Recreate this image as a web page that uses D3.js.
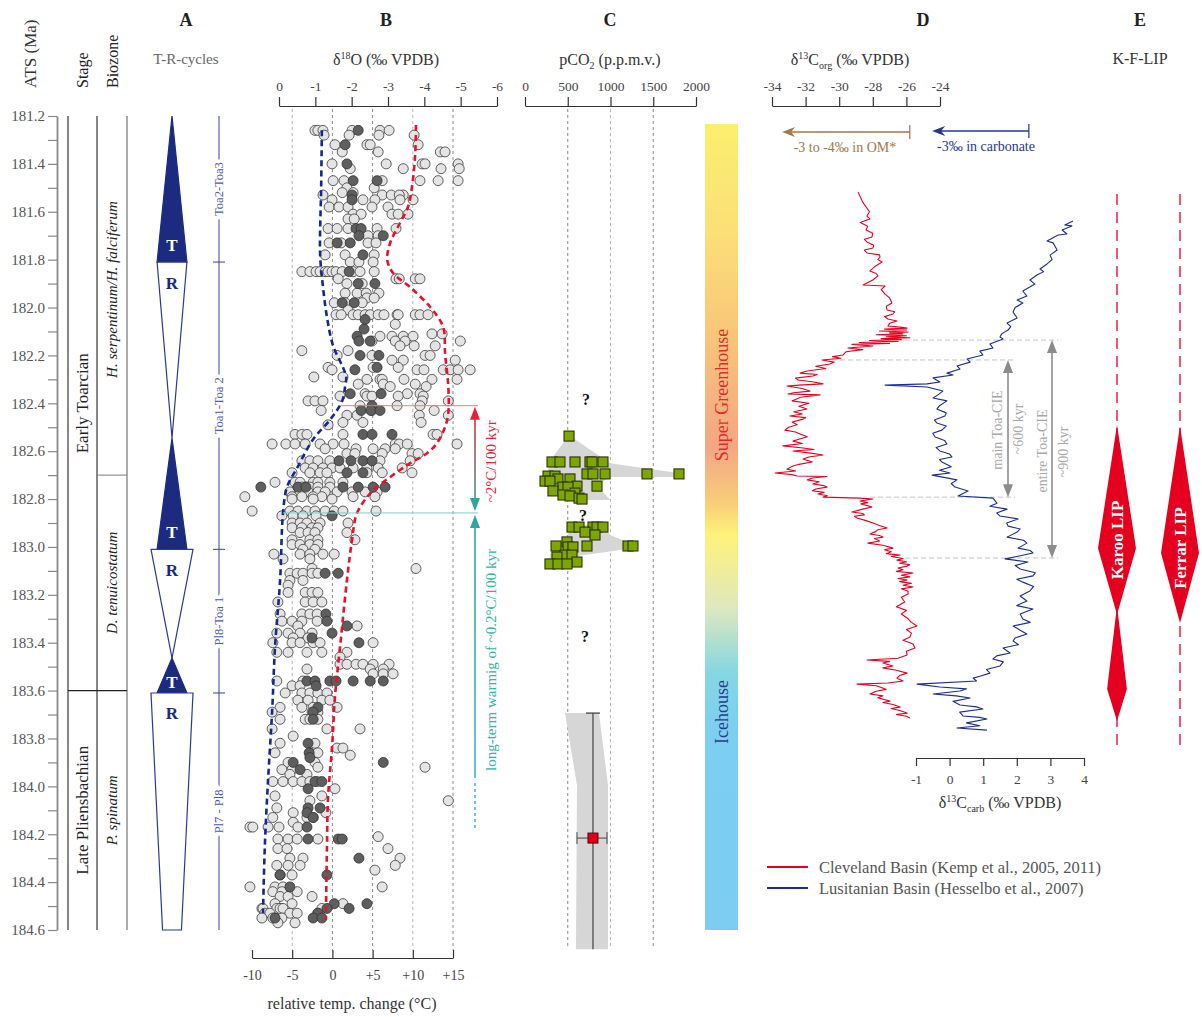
<!DOCTYPE html>
<html>
<head>
<meta charset="utf-8">
<script src="https://cdn.jsdelivr.net/npm/d3@7"></script>
<style>
  body { margin: 0; background: #fff; }
  svg { display: block; }
  text { font-family: "Liberation Serif", "Times New Roman", serif; }
</style>
</head>
<body>
<svg id="chart" width="1202" height="1017"></svg>
<script>
// ---------------------------------------------------------------
// Age axis
// ---------------------------------------------------------------
const ageMajorTicks = [181.2,181.4,181.6,181.8,182.0,182.2,182.4,182.6,182.8,183.0,183.2,183.4,183.6,183.8,184.0,184.2,184.4,184.6];
const ageMinorTicks = [181.3,181.5,181.7,181.9,182.1,182.3,182.5,182.7,182.9,183.1,183.3,183.5,183.7,183.9,184.1,184.3,184.5];

const stages = [
  { name: "Early Toarcian", from: 181.2, to: 183.6 },
  { name: "Late Pliensbachian", from: 183.6, to: 184.6 }
];
const biozones = [
  { name: "H. serpentinum/H. falciferum", from: 181.2, to: 182.7 },
  { name: "D. tenuicostatum", from: 182.7, to: 183.6 },
  { name: "P. spinatum", from: 183.6, to: 184.6 }
];

// T-R half-cycles, amplitude relative (0-1)
const trCycles = [
  { kind: "T", from: 181.20,  to: 181.81,  w0: 0,    w1: 0.71 },
  { kind: "R", from: 181.81,  to: 182.545, w0: 0.71, w1: 0 },
  { kind: "T", from: 182.545, to: 183.01,  w0: 0,    w1: 0.71 },
  { kind: "R", from: 183.01,  to: 183.464, w0: 1,    w1: 0 },
  { kind: "T", from: 183.464, to: 183.61,  w0: 0,    w1: 0.71 },
  { kind: "R", from: 183.61,  to: 184.60,  w0: 1,    w1: 0.45 }
];
const sequences = [
  { name: "Toa2-Toa3",  from: 181.2,  to: 181.81 },
  { name: "Toa1-Toa 2", from: 181.81, to: 183.01 },
  { name: "Pl8-Toa 1",  from: 183.01, to: 183.61 },
  { name: "Pl7 - Pl8",  from: 183.61, to: 184.6 }
];
const sequenceBounds = [181.81, 183.01, 183.61];

// ---------------------------------------------------------------
// B: oxygen isotopes (age, δ18O ‰ VPDB)
// ---------------------------------------------------------------
const d18OTicks = [0, -1, -2, -3, -4, -5, -6];
const tempTicks = [-10, -5, 0, 5, 10, 15];
const tempTickLabels = ["-10", "-5", "0", "+5", "+10", "+15"];

const d18OBelemnite = [
  [181.26,[-0.99,-1.07,-1.21,-2.01,-2.78,-3.03]],
  [181.28,[-1.24,-1.93,-2.75,-3.72]],
  [181.32,[-1.54,-2.42,-2.51,-3.83]],
  [181.35,[-1.74,-2.73,-4.44,-4.57]],
  [181.40,[-1.46,-2.95,-3.94,-4.02,-4.93]],
  [181.42,[-1.96,-3.42,-4.46,-4.96]],
  [181.47,[-1.49,-1.79,-2.84,-3.88,-4.38,-4.93]],
  [181.50,[-1.87,-2.62]],
  [181.52,[-1.74,-2.04]],
  [181.53,[-1.21,-2.84,-3.09,-3.42,-3.31]],
  [181.55,[-1.46,-2.31,-2.64,-3.69,-3.33]],
  [181.58,[-1.38,-1.65,-1.90,-2.56,-3.00]],
  [181.61,[-2.04,-2.26,-3.11,-3.28,-3.55]],
  [181.63,[-1.90,-2.07]],
  [181.67,[-1.35,-1.60,-1.90,-2.70,-3.22]],
  [181.70,[-2.45,-2.73]],
  [181.73,[-1.38,-1.71,-2.45,-2.67]],
  [181.78,[-1.27,-1.82,-2.62]],
  [181.81,[-1.96,-2.20,-2.59]],
  [181.85,[-0.63,-0.85,-1.02,-1.13,-1.27,-1.35,-1.46,-1.57,-1.74,-2.04,-2.23,-2.62]],
  [181.88,[-1.63,-3.22,-3.31,-3.75,-3.88]],
  [181.90,[-1.87,-2.29]],
  [181.94,[-1.82,-2.15,-2.40,-2.75]],
  [181.96,[-2.42,-2.62]],
  [181.98,[-1.52,-1.82,-2.29]],
  [182.01,[-1.90]],
  [182.03,[-1.57,-1.71,-2.04,-2.18,-2.37,-2.51,-2.73,-2.89,-3.25,-3.28,-3.75,-3.88,-4.10]],
  [182.07,[-3.20]],
  [182.11,[-4.21,-4.49]],
  [182.12,[-2.78,-3.11,-3.42,-3.69]],
  [182.14,[-2.56,-3.20,-3.47,-4.99]],
  [182.16,[-3.33,-3.72,-4.30]],
  [182.18,[-0.63,-1.90]],
  [182.20,[-1.60,-2.56,-4.02,-4.16]],
  [182.22,[-3.11,-3.42,-4.85]],
  [182.25,[-1.35,-2.59,-3.28]],
  [182.26,[-1.46,-3.80,-3.99,-4.52,-4.71,-4.93,-5.26]],
  [182.29,[-0.96,-1.76]],
  [182.30,[-2.42,-2.78,-2.84,-3.44,-4.21,-4.90]],
  [182.32,[-2.18,-2.87,-3.75]],
  [182.33,[-3.06,-4.05]],
  [182.36,[-2.37,-3.53,-3.88]],
  [182.37,[-1.68,-2.42,-2.56,-3.28,-3.97]],
  [182.39,[-0.80,-0.99,-1.21,-3.94,-4.66]],
  [182.41,[-2.23,-3.25,-3.88]],
  [182.43,[-1.16,-2.56,-4.27]],
  [182.45,[-1.87,-2.15,-3.86,-4.66]],
  [182.48,[-1.76,-2.31,-3.91]],
  [182.49,[-1.35]],
  [182.53,[-0.44,-0.63,-0.77,-1.76,-4.24,-4.35]],
  [182.57,[0.19,-0.19,-0.44,-0.72,-1.13,-1.49,-1.79,-3.20,-3.31,-3.53,-4.90]],
  [182.59,[-1.27,-2.12,-2.59,-2.92,-3.20]],
  [182.61,[-1.87,-2.09,-2.84,-3.66,-3.83]],
  [182.64,[-0.63,-0.85,-1.07,-1.40,-2.78,-3.61]],
  [182.67,[-0.72,-0.94,-1.21,-1.46,-1.68,-2.04,-2.42,-2.73,-3.39]],
  [182.69,[-0.36,-0.85,-1.13,-1.32,-2.42,-2.84,-3.66]],
  [182.73,[0.11,-0.44,-0.58,-0.94,-1.07,-1.40,-1.76]],
  [182.75,[-0.63,-0.74,-0.85,-1.07,-1.40]],
  [182.77,[-0.30,-0.58,-0.80,-1.07,-1.27,-1.60,-2.01,-2.37,-2.70]],
  [182.79,[0.94,-0.36,-0.63,-0.94,-1.18,-2.04,-2.64]],
  [182.80,[-0.36,-0.94,-1.46]],
  [182.85,[0.74,-0.30,-0.52,-0.77,-0.99,-1.27,-1.52,-1.76,-2.67]],
  [182.87,[-0.08,-0.39,-0.66,-1.02]],
  [182.90,[-0.36,-0.58,-0.77,-1.13,-1.90]],
  [182.92,[-0.36,-0.63,-0.91,-1.07]],
  [182.94,[-0.58,-0.80,-0.99,-1.87]],
  [182.97,[-0.36,-0.85,-1.07,-2.09]],
  [182.99,[-0.36,-0.58,-0.85,-1.07]],
  [183.01,[-0.66,-0.99]],
  [183.03,[0.14,-0.58,-0.85,-1.21,-1.52]],
  [183.05,[-0.11,-0.85]],
  [183.09,[-0.91,-3.77]],
  [183.11,[-0.30,-0.50,-0.66,-0.91,-1.07]],
  [183.14,[-0.30,-0.66]],
  [183.16,[-0.25]],
  [183.19,[-0.25,-0.72,-0.91,-1.07]],
  [183.23,[0.03,-0.72,-0.94,-1.18]],
  [183.28,[-0.03,-0.63,-0.85,-1.05]],
  [183.31,[-0.08,-0.36,-0.63,-1.05]],
  [183.33,[-0.52,-2.15]],
  [183.36,[0.06,-0.25,-0.58,-0.91]],
  [183.38,[-0.39,-0.80]],
  [183.40,[0.17,-0.36,-0.58,-0.94,-1.13,-2.59]],
  [183.44,[0.06,-0.25,-0.77,-1.18,-1.87]],
  [183.46,[-1.68]],
  [183.49,[-1.68,-1.87,-2.12,-2.31,-2.59,-3.03]],
  [183.51,[-0.77,-2.51,-2.87]],
  [183.53,[-2.59,-2.87,-3.14]],
  [183.56,[0.06,-0.66]],
  [183.58,[-0.36,-0.58]],
  [183.61,[-0.17,-0.63,-0.85,-1.07,-1.32]],
  [183.64,[-0.52,-0.80,-1.18,-1.40]],
  [183.67,[-0.03,-0.63,-0.94,-1.60]],
  [183.69,[0.19,-0.91,-1.07]],
  [183.72,[-0.03,-0.72,-0.85,-1.07]],
  [183.76,[0.19,-1.32,-2.23]],
  [183.79,[-0.39]],
  [183.82,[-0.03,-0.99]],
  [183.84,[-1.60,-1.76]],
  [183.86,[0.11,-0.85,-1.07]],
  [183.87,[-1.96]],
  [183.90,[-0.25,-0.99]],
  [183.92,[-1.07,-4.02]],
  [183.93,[-0.08,-0.36]],
  [183.95,[-0.30,-0.77]],
  [183.98,[0.17,-0.11,-0.39,-0.63,-0.85,-1.05]],
  [184.01,[-1.54]],
  [184.04,[0.11,-1.18]],
  [184.06,[-0.85,-4.66]],
  [184.09,[0.06]],
  [184.11,[-0.39,-1.29]],
  [184.13,[0.17,-0.77,-0.94]],
  [184.15,[-0.39]],
  [184.17,[0.80,0.72,0.30,0.00,-0.52]],
  [184.21,[-2.73]],
  [184.22,[0.03,-0.25,-0.50,-1.07]],
  [184.26,[0.03,-0.22,-3.00]],
  [184.30,[-0.30,-0.66,-3.33]],
  [184.33,[0.06,-0.25,-0.58,-3.20]],
  [184.35,[-2.64]],
  [184.37,[-0.03,-0.36]],
  [184.42,[0.80,0.11,-0.11,-2.84]],
  [184.44,[0.17,-0.08,-0.50]],
  [184.46,[-0.03,-0.25,-0.91]],
  [184.49,[0.11,-0.36,-1.76]],
  [184.51,[0.47,0.44,0.06,-0.03,-0.11,-1.18]],
  [184.53,[0.39,0.25,-0.30,-0.50,-1.07]],
  [184.55,[0.47,0.17,-0.08]],
  [184.57,[0.03,-0.44]]
];

const d18OBrachiopod = [
  [181.26,[-2.18]],[181.32,[-1.82]],[181.40,[-1.87]],[181.47,[-2.04,-2.70]],
  [181.53,[-2.01]],[181.55,[-2.01]],[181.67,[-2.12,-2.26]],[181.70,[-2.20,-2.87]],
  [181.73,[-1.60,-1.96]],[181.78,[-2.31]],[181.85,[-1.93]],[181.90,[-2.18,-2.64]],
  [181.98,[-1.74,-2.07]],[182.05,[-2.37]],[182.09,[-2.34]],[182.12,[-2.15]],
  [182.14,[-2.20,-2.51]],[182.20,[-2.23,-2.75]],[182.25,[-2.70]],[182.26,[-2.09]],
  [182.36,[-1.96,-2.81]],[182.41,[-2.56]],[182.43,[-2.26,-2.53,-2.78]],
  [182.53,[-2.31,-2.56,-3.11]],[182.64,[-1.65,-1.98,-2.31,-2.56]],[182.69,[-1.87,-2.31]],
  [182.75,[0.50,-0.52,-0.74,-1.76,-2.18,-2.59,-2.92]],[182.87,[-1.46]],
  [183.11,[-1.27,-1.63]],[183.28,[-1.29]],[183.31,[-1.32]],[183.33,[-1.87]],
  [183.36,[-1.46]],[183.38,[-0.91]],[183.40,[-2.20]],
  [183.56,[-0.77,-0.99,-1.40,-1.57,-2.04,-2.51,-2.87]],[183.58,[-1.02]],
  [183.67,[-1.07]],[183.69,[-0.94]],[183.72,[-0.94]],[183.82,[-0.80]],[183.86,[-0.83]],
  [183.88,[-0.85]],[183.90,[-0.39,-2.87]],[183.93,[-0.58]],[183.98,[-0.99,-1.18]],
  [184.01,[-0.80]],[184.09,[-0.80,-1.13]],[184.11,[-0.77]],[184.13,[-0.94]],
  [184.17,[-0.77]],[184.22,[-0.80,-1.63,-1.74]],[184.30,[-2.20]],[184.37,[-0.03,-1.32]],
  [184.42,[-0.30]],[184.49,[-1.52,-2.42]],[184.51,[-1.32,-1.93]],[184.53,[-1.07]],
  [184.55,[0.11,-0.94,-1.18]]
];

// envelopes of the δ18O data
const d18OMinTrend = [
  [181.26,-1.18],[181.50,-1.16],[181.77,-1.13],[181.87,-1.18],[182.04,-1.32],[182.16,-1.49],
  [182.25,-1.76],[182.29,-1.85],[182.33,-1.82],[182.39,-1.74],[182.47,-1.40],[182.55,-0.94],
  [182.67,-0.50],[182.75,-0.22],[182.86,-0.11],[183.14,-0.03],[183.42,0.11],[183.69,0.19],
  [183.97,0.30],[184.25,0.39],[184.53,0.44]
];
const d18OMaxTrend = [
  [181.238,-3.77],[181.355,-3.75],[181.497,-3.66],[181.580,-3.55],[181.647,-3.33],[181.730,-3.06],
  [181.802,-2.98],[181.856,-3.14],[181.915,-3.61],[181.998,-4.16],[182.082,-4.52],[182.190,-4.57],
  [182.332,-4.66],[182.441,-4.66],[182.499,-4.57],[182.566,-4.35],[182.608,-4.08],[182.650,-3.61],
  [182.708,-3.06],[182.763,-2.59],[182.858,-2.15],[182.971,-2.01],[183.138,-1.87],[183.418,-1.68],
  [183.627,-1.54],[183.836,-1.46],[184.045,-1.35],[184.253,-1.32],[184.558,-1.29]
];

// warming-rate markers (ages in Ma, δ18O where the guide line starts)
const rapidWarming = { start: 182.858, end: 182.41, startD18O: -0.11, endD18O: -1.68 };
const longTermWarming = { top: 182.867, solidTo: 183.965, dottedTo: 184.18 };

// ---------------------------------------------------------------
// C: pCO2 (age, p.p.m.v.)
// ---------------------------------------------------------------
const pco2Ticks = [0, 500, 1000, 1500, 2000];
const pco2Points = [
  [182.537,515],
  [182.645,316],[182.645,409],[182.645,585],[182.645,760],[182.645,784],[182.645,912],
  [182.695,725],[182.695,795],[182.695,936],[182.695,1427],[182.695,1801],
  [182.704,269],[182.704,351],[182.716,386],[182.716,526],[182.725,234],[182.725,292],
  [182.746,608],[182.746,842],[182.750,444],[182.750,503],[182.766,327],[182.775,585],
  [182.783,444],[182.787,526],[182.796,632],[182.800,667],
  [182.917,550],[182.917,632],[182.917,795],[182.917,842],[182.917,912],[182.938,702],
  [182.950,819],[182.979,491],[182.996,363],[182.996,725],[182.996,1205],[182.996,1263],
  [183.000,503],[183.000,561],[183.034,468],[183.034,550],[183.042,374],[183.063,608],
  [183.071,292],[183.071,386],[183.071,491]
];
const pco2EnvelopeUpper = [
  [182.533,515],[182.650,994],[182.692,1813],[182.708,1813],[182.708,994],[182.741,842],
  [182.804,994],[182.804,667],[182.741,211],[182.629,316]
];
const pco2EnvelopeLower = [
  [182.908,526],[182.908,912],[182.950,994],[182.992,1287],[183.004,1287],[183.038,608],
  [183.076,620],[183.080,257],[182.992,327],[182.971,491]
];
const pco2PliensbachBand = [
  [183.694,468],[183.694,865],[183.995,971],[184.68,971],[184.68,596],[183.995,608]
];
const pco2Pliensbach = { age: 184.216, value: 795, lo: 608, hi: 959, top: 183.694, bottom: 184.68 };
const unknownMarks = [[182.386, 713], [182.867, 678], [183.372, 702]];

// climate mode bar
const climateBar = { from: 181.233, to: 184.6 };
const climateStops = [
  [0.00, "#fbef6f"], [0.13, "#fbe077"], [0.25, "#f9c878"], [0.40, "#f2a684"],
  [0.47, "#f8cd7a"], [0.51, "#fef27a"], [0.60, "#dfe8bd"], [0.68, "#86d7e2"],
  [0.75, "#7ccff0"], [1.00, "#7ccdf0"]
];

// ---------------------------------------------------------------
// D: carbon isotopes
// ---------------------------------------------------------------
const orgTicks = [-34, -32, -30, -28, -26, -24];
const carbTicks = [-1, 0, 1, 2, 3, 4];

// Cleveland Basin δ13Corg (age, ‰)
const d13COrg = [
  [181.517,-28.88],[181.560,-28.60],[181.600,-28.20],[181.618,-28.35],[181.630,-28.17],
  [181.645,-28.75],[181.660,-28.30],[181.676,-28.40],[181.690,-28.00],[181.705,-28.05],
  [181.715,-28.50],[181.726,-28.35],[181.740,-27.95],[181.751,-27.99],[181.760,-28.50],
  [181.772,-28.35],[181.780,-27.60],[181.789,-27.57],[181.800,-27.70],[181.810,-27.45],
  [181.830,-27.90],[181.847,-28.17],[181.858,-27.80],[181.868,-27.69],[181.885,-28.00],
  [181.906,-28.58],[181.910,-27.27],[181.925,-27.50],[181.944,-27.27],[181.960,-27.00],
  [181.981,-26.86],[181.995,-27.20],[182.010,-27.15],[182.018,-26.70],[182.027,-26.80],
  [182.038,-27.30],[182.048,-27.10],[182.056,-26.56],[182.066,-27.00],[182.077,-27.10],
  [182.082,-26.40],[182.086,-25.96],[182.090,-27.30],[182.094,-26.00],[182.098,-27.60],
  [182.102,-25.90],[182.106,-27.00],[182.110,-26.20],[182.114,-27.80],[182.118,-26.00],
  [182.122,-27.20],[182.126,-25.80],[182.130,-27.50],[182.134,-26.30],[182.138,-28.20],
  [182.142,-26.50],[182.146,-28.80],[182.150,-27.00],[182.154,-29.24],[182.161,-27.99],
  [182.169,-29.48],[182.176,-28.60],[182.185,-29.60],[182.198,-29.77],[182.205,-30.40],
  [182.212,-29.90],[182.219,-31.02],[182.228,-30.30],[182.236,-30.55],[182.245,-31.40],
  [182.255,-30.80],[182.265,-31.90],[182.274,-32.33],[182.280,-31.30],[182.286,-31.56],
  [182.295,-32.60],[182.303,-32.45],[182.310,-31.60],[182.319,-30.96],[182.324,-32.40],
  [182.328,-33.11],[182.338,-32.20],[182.349,-31.74],[182.356,-32.70],[182.361,-33.05],
  [182.365,-31.14],[182.375,-32.30],[182.390,-32.81],[182.400,-31.80],[182.412,-32.40],
  [182.424,-31.92],[182.435,-32.70],[182.445,-32.20],[182.453,-32.93],[182.460,-32.00],
  [182.466,-32.15],[182.478,-32.80],[182.490,-32.50],[182.500,-33.00],[182.512,-33.23],
  [182.520,-32.60],[182.528,-32.33],[182.540,-31.90],[182.550,-32.40],[182.558,-32.75],
  [182.568,-32.20],[182.578,-33.35],[182.587,-32.15],[182.593,-31.50],[182.599,-32.75],
  [182.608,-31.70],[182.616,-30.96],[182.624,-31.80],[182.633,-32.15],[182.645,-31.60],
  [182.655,-32.40],[182.662,-32.75],[182.675,-33.11],[182.683,-32.60],[182.691,-33.82],
  [182.698,-32.80],[182.704,-32.51],[182.706,-30.73],[182.712,-31.60],[182.720,-31.90],
  [182.728,-31.20],[182.737,-31.56],[182.744,-30.90],[182.750,-30.73],[182.758,-31.40],
  [182.765,-31.60],[182.772,-30.90],[182.779,-31.26],[182.786,-30.70],[182.792,-30.96],
  [182.796,-28.80],[182.800,-27.99],[182.808,-28.76],[182.815,-28.30],[182.820,-28.70],
  [182.833,-28.05],[182.842,-28.60],[182.854,-29.24],[182.860,-28.60],[182.866,-28.50],
  [182.872,-29.10],[182.879,-28.94],[182.890,-28.40],[182.900,-27.99],[182.910,-27.60],
  [182.921,-27.15],[182.928,-27.70],[182.935,-27.80],[182.946,-28.17],[182.952,-27.60],
  [182.959,-27.39],[182.965,-27.90],[182.975,-27.60],[182.984,-28.29],[182.993,-27.40],
  [183.005,-26.80],[183.012,-27.30],[183.020,-26.90],[183.028,-27.20],[183.034,-26.38],
  [183.040,-26.90],[183.048,-26.20],[183.055,-26.56],[183.062,-26.00],[183.068,-26.40],
  [183.074,-25.80],[183.080,-25.96],[183.088,-26.50],[183.095,-26.20],[183.102,-26.60],
  [183.109,-25.61],[183.118,-26.30],[183.125,-25.80],[183.132,-26.50],[183.138,-25.96],
  [183.145,-26.40],[183.152,-25.70],[183.160,-26.20],[183.167,-25.61],[183.175,-26.30],
  [183.185,-25.90],[183.197,-25.90],[183.210,-26.30],[183.230,-26.10],[183.250,-26.60],
  [183.265,-26.00],[183.280,-26.30],[183.300,-25.90],[183.315,-25.70],[183.330,-25.37],
  [183.345,-26.00],[183.360,-25.70],[183.376,-25.79],[183.390,-26.20],[183.405,-25.60],
  [183.422,-25.49],[183.436,-26.00],[183.451,-25.96],[183.465,-26.50],[183.472,-28.35],
  [183.478,-27.00],[183.485,-27.40],[183.497,-26.80],[183.505,-27.40],[183.515,-26.60],
  [183.527,-25.96],[183.537,-26.40],[183.548,-26.56],[183.560,-26.20],[183.568,-27.10],
  [183.573,-28.94],[183.580,-27.80],[183.585,-27.57],[183.595,-27.20],[183.603,-27.80],
  [183.614,-28.17],[183.622,-27.40],[183.630,-27.70],[183.644,-26.98],[183.650,-27.40],
  [183.658,-26.80],[183.669,-26.38],[183.675,-26.90],[183.683,-26.40],[183.694,-25.96],
  [183.700,-26.60],[183.707,-26.00],[183.714,-25.79]
];

// Lusitanian Basin δ13Ccarb (age, ‰)
const d13CCarb = [
  [181.639,3.67],[181.655,3.43],[181.659,3.64],[181.676,3.35],[181.693,3.49],[181.697,3.23],
  [181.722,2.90],[181.730,3.08],[181.760,3.20],[181.781,2.99],[181.800,3.05],[181.818,2.90],
  [181.839,2.69],[181.850,2.80],[181.864,2.60],[181.885,2.39],[181.902,2.54],[181.931,2.18],
  [181.952,2.30],[181.969,2.01],[181.981,2.18],[182.000,1.95],[182.019,1.89],[182.044,2.01],
  [182.065,1.71],[182.080,1.82],[182.094,1.74],[182.110,1.55],[182.123,1.50],[182.131,1.59],
  [182.152,1.20],[182.169,1.29],[182.182,0.90],[182.198,0.99],[182.215,0.52],[182.228,0.61],
  [182.244,0.22],[182.257,0.31],[182.274,-0.08],[182.282,0.10],[182.294,-0.49],[182.311,-0.29],
  [182.319,-0.67],[182.324,-1.92],[182.332,-0.67],[182.349,-0.20],[182.365,-0.35],
  [182.378,-0.49],[182.390,-0.08],[182.410,-0.30],[182.424,-0.38],[182.440,-0.10],
  [182.453,-0.14],[182.470,-0.45],[182.482,-0.38],[182.495,-0.10],[182.512,-0.23],
  [182.525,-0.50],[182.541,-0.43],[182.555,-0.15],[182.570,-0.08],[182.585,-0.40],
  [182.599,-0.29],[182.612,0.00],[182.624,0.07],[182.635,-0.30],[182.645,-0.23],
  [182.665,0.05],[182.680,-0.30],[182.691,0.01],[182.700,-0.52],[182.720,0.22],
  [182.735,0.05],[182.750,0.16],[182.766,0.55],[182.787,0.25],[182.796,1.29],
  [182.817,1.41],[182.830,1.20],[182.842,1.71],[182.858,1.40],[182.871,1.50],[182.883,2.04],
  [182.900,1.70],[182.913,1.74],[182.925,2.10],[182.938,2.01],[182.959,1.71],[182.972,2.20],
  [182.984,2.30],[183.005,2.04],[183.015,2.40],[183.025,2.48],[183.040,2.00],[183.050,1.65],
  [183.063,2.33],[183.078,1.95],[183.092,2.10],[183.108,2.55],[183.121,2.48],[183.135,2.00],
  [183.147,2.18],[183.165,2.50],[183.184,2.39],[183.205,2.10],[183.226,2.30],[183.245,2.00],
  [183.259,2.48],[183.280,2.10],[183.301,2.18],[183.315,2.40],[183.330,1.89],[183.348,2.10],
  [183.364,2.30],[183.380,1.95],[183.393,1.89],[183.408,2.05],[183.422,1.59],[183.443,1.80],
  [183.455,1.40],[183.468,1.29],[183.480,1.60],[183.497,1.50],[183.512,1.10],[183.527,1.20],
  [183.540,0.90],[183.548,0.70],[183.560,0.80],[183.573,-0.97],[183.585,-0.29],[183.593,0.50],
  [183.602,0.31],[183.614,-0.49],[183.622,0.20],[183.631,0.61],[183.645,0.10],[183.660,0.31],
  [183.668,0.80],[183.677,0.99],[183.690,0.30],[183.706,0.40],[183.712,0.90],[183.719,1.11],
  [183.735,0.50],[183.747,0.90],[183.756,0.22],[183.765,1.11]
];

// CIE intervals (Ma)
const cieEntire = { from: 182.136, to: 183.046 };
const cieMain = { from: 182.219, to: 182.792 };

// isotope shift annotations (‰)
const orgShift = { from: -25.8, to: -33.4 };
const carbShift = { from: 2.36, to: -0.52 };

// ---------------------------------------------------------------
// E: Karoo-Ferrar LIP activity (age, relative intensity)
// ---------------------------------------------------------------
const lipSpan = { from: 181.526, to: 183.848 };
const karooActivity = [[182.491,0],[183.005,1],[183.272,0.04],[183.593,0.52],[183.727,0]];
const ferrarActivity = [[182.495,0],[183.025,1],[183.318,0]];

// ---------------------------------------------------------------
// Drawing
// ---------------------------------------------------------------
const NAVY = "#1c2b80";
const RED = "#e60020";
const TEAL = "#2ba89b";
const TXT = "#444";

const svg = d3.select("#chart");
const defs = svg.append("defs");
const y = d3.scaleLinear().domain([181.2, 184.6]).range([116, 930]);

function vtext(parent, x, yy, str) {
  return parent.append("text")
    .attr("transform", `translate(${x},${yy}) rotate(-90)`)
    .attr("text-anchor", "middle")
    .attr("dominant-baseline", "central")
    .text(str);
}
function styleAxis(g, color, size) {
  g.select(".domain").attr("stroke", color).attr("stroke-width", 1.2);
  g.selectAll(".tick line").attr("stroke", color).attr("stroke-width", 1.2);
  g.selectAll(".tick text").attr("fill", TXT).attr("font-size", size)
    .attr("font-family", '"Liberation Serif","Times New Roman",serif');
}
function headLetter(x, s) {
  svg.append("text").attr("x", x).attr("y", 26).attr("text-anchor", "middle")
    .attr("font-size", 18).attr("font-weight", "bold").attr("fill", "#222").text(s);
}

// ---------- headers ----------
headLetter(186, "A"); headLetter(386, "B"); headLetter(610, "C"); headLetter(923, "D"); headLetter(1140, "E");

svg.append("text").attr("transform", "translate(36,88) rotate(-90)").attr("font-size", 17).attr("fill", "#333").text("ATS (Ma)");
svg.append("text").attr("transform", "translate(88,88) rotate(-90)").attr("font-size", 16).attr("fill", "#222").text("Stage");
svg.append("text").attr("transform", "translate(118,88) rotate(-90)").attr("font-size", 16).attr("fill", "#222").text("Biozone");
svg.append("text").attr("x", 186).attr("y", 64).attr("text-anchor", "middle").attr("font-size", 15).attr("fill", "#666").text("T-R-cycles");

// ---------- age axis ----------
const gMajor = svg.append("g").attr("transform", "translate(57,0)")
  .call(d3.axisLeft(y).tickValues(ageMajorTicks).tickFormat(d3.format(".1f")).tickSize(9).tickPadding(3).tickSizeOuter(0));
styleAxis(gMajor, "#888", 15);
gMajor.select(".domain").attr("stroke-width", 1.8);
gMajor.selectAll(".tick text").attr("fill", "#555");
const gMinor = svg.append("g").attr("transform", "translate(57,0)")
  .call(d3.axisLeft(y).tickValues(ageMinorTicks).tickFormat("").tickSize(9).tickSizeOuter(0));
styleAxis(gMinor, "#888", 15);
gMinor.select(".domain").remove();

// ---------- stage & biozone columns ----------
const colX = [68, 97, 127];
colX.forEach((cx, i) => svg.append("line").attr("x1", cx).attr("x2", cx).attr("y1", y(181.2)).attr("y2", y(184.6))
  .attr("stroke", i === 2 ? "#888" : "#222").attr("stroke-width", i === 2 ? 1.4 : 1.1));
stages.slice(1).forEach(s => svg.append("line").attr("x1", colX[0]).attr("x2", colX[2])
  .attr("y1", y(s.from)).attr("y2", y(s.from)).attr("stroke", "#222").attr("stroke-width", 1.1));
biozones.slice(1).forEach(b => {
  if (!stages.some(s => s.from === b.from))
    svg.append("line").attr("x1", colX[1]).attr("x2", colX[2]).attr("y1", y(b.from)).attr("y2", y(b.from))
      .attr("stroke", "#888").attr("stroke-width", 1.1);
});
stages.forEach(s => vtext(svg, 82, y((s.from + s.to) / 2), s.name).attr("font-size", 17).attr("fill", "#222"));
biozones.forEach(b => vtext(svg, 112, y((b.from + b.to) / 2) - (b.from === 181.2 ? 6 : 0), b.name)
  .attr("font-size", 15).attr("font-style", "italic").attr("fill", "#222"));

// ---------- A: T-R cycles ----------
const trCx = 172;
const trW = d3.scaleLinear().domain([0, 1]).range([0, 21]);
trCycles.forEach(c => {
  const pts = [[trCx - trW(c.w0), y(c.from)], [trCx + trW(c.w0), y(c.from)],
               [trCx + trW(c.w1), y(c.to)], [trCx - trW(c.w1), y(c.to)]];
  svg.append("polygon").attr("points", pts.map(p => p.join(",")).join(" "))
    .attr("fill", c.kind === "T" ? NAVY : "#fff").attr("stroke", c.kind === "T" ? NAVY : "#2a3a94")
    .attr("stroke-width", 1.2).attr("stroke-linejoin", "miter");
});
trCycles.forEach(c => {
  const y0 = y(c.from), y1 = y(c.to);
  const ly = c.kind === "T" ? y1 - Math.min(17, 0.3 * (y1 - y0)) : y0 + 21;
  svg.append("text").attr("x", trCx).attr("y", ly).attr("text-anchor", "middle").attr("dominant-baseline", "central")
    .attr("font-size", 17).attr("font-weight", "bold").attr("fill", c.kind === "T" ? "#fff" : NAVY).text(c.kind);
});

// sequence line
const seqX = 219;
svg.append("line").attr("x1", seqX).attr("x2", seqX).attr("y1", y(181.2)).attr("y2", y(184.6))
  .attr("stroke", "#33449a").attr("stroke-width", 1);
sequenceBounds.forEach(b => svg.append("line").attr("x1", seqX - 6).attr("x2", seqX + 6)
  .attr("y1", y(b)).attr("y2", y(b)).attr("stroke", "#33449a").attr("stroke-width", 1));
sequences.forEach(s => vtext(svg, seqX, y((s.from + s.to) / 2), s.name)
  .attr("font-size", 12.5).attr("fill", "#4a5ab2").attr("stroke", "#fff").attr("stroke-width", 7)
  .attr("paint-order", "stroke"));

// ---------- B: δ18O ----------
const xO = d3.scaleLinear().domain([0, -6]).range([279, 497]);
const xT = d3.scaleLinear().domain([-10, 15]).range([252, 453]);

const tB = svg.append("text").attr("x", 386).attr("y", 65).attr("text-anchor", "middle").attr("font-size", 16).attr("fill", "#333");
tB.append("tspan").text("δ");
tB.append("tspan").attr("dy", -6).attr("font-size", 10).text("18");
tB.append("tspan").attr("dy", 6).text("O (‰ VPDB)");

const gBt = svg.append("g").attr("transform", "translate(0,106)")
  .call(d3.axisTop(xO).tickValues(d18OTicks).tickFormat(d => String(d)).tickSize(9).tickPadding(6).tickSizeOuter(0));
styleAxis(gBt, "#333", 13.5);

const gBb = svg.append("g").attr("transform", "translate(0,958)")
  .call(d3.axisBottom(xT).tickValues(tempTicks).tickFormat((d, i) => tempTickLabels[i]).tickSize(-8).tickPadding(12).tickSizeOuter(0));
styleAxis(gBb, "#333", 14);
svg.append("text").attr("x", 352).attr("y", 1009).attr("text-anchor", "middle").attr("font-size", 16).attr("fill", "#333")
  .text("relative temp. change (°C)");

tempTicks.slice(1).forEach((t, i) => svg.append("line").attr("x1", xT(t)).attr("x2", xT(t))
  .attr("y1", 109).attr("y2", 950).attr("stroke", (i === 1 || i === 2 || i === 4) ? "#8a8a8a" : "#b5b5b5")
  .attr("stroke-width", 1).attr("stroke-dasharray", "3,3"));

const flat = rows => rows.flatMap(([a, vs]) => vs.map(v => [a, v]));
svg.append("g").selectAll("circle").data(flat(d18OBelemnite)).join("circle")
  .attr("cx", d => xO(d[1])).attr("cy", d => y(d[0])).attr("r", 5)
  .attr("fill", "#e4e4e4").attr("stroke", "#3a3a3a").attr("stroke-width", 0.8);
svg.append("g").selectAll("circle").data(flat(d18OBrachiopod)).join("circle")
  .attr("cx", d => xO(d[1])).attr("cy", d => y(d[0])).attr("r", 5)
  .attr("fill", "#5e5e5e").attr("stroke", "#333").attr("stroke-width", 0.8);

const trendLine = d3.line().x(d => xO(d[1])).y(d => y(d[0])).curve(d3.curveCatmullRom.alpha(0.5));
svg.append("path").attr("d", trendLine(d18OMinTrend)).attr("fill", "none").attr("stroke", "#16288a")
  .attr("stroke-width", 2.6).attr("stroke-dasharray", "6,4");
svg.append("path").attr("d", trendLine(d18OMaxTrend)).attr("fill", "none").attr("stroke", "#e8102a")
  .attr("stroke-width", 2.6).attr("stroke-dasharray", "6,4");

// warming-rate arrows
const arrX = 475;
svg.append("line").attr("x1", xO(rapidWarming.endD18O)).attr("x2", arrX + 3)
  .attr("y1", y(rapidWarming.end)).attr("y2", y(rapidWarming.end)).attr("stroke", "#f27a88").attr("stroke-width", 1);
svg.append("line").attr("x1", xO(rapidWarming.startD18O)).attr("x2", arrX + 3)
  .attr("y1", y(rapidWarming.start)).attr("y2", y(rapidWarming.start)).attr("stroke", "#86cdc5").attr("stroke-width", 1);

const gr1 = defs.append("linearGradient").attr("id", "rapidGrad").attr("gradientUnits", "userSpaceOnUse")
  .attr("x1", 0).attr("x2", 0).attr("y1", y(rapidWarming.end)).attr("y2", y(rapidWarming.start));
gr1.append("stop").attr("offset", 0).attr("stop-color", "#e8213a");
gr1.append("stop").attr("offset", 1).attr("stop-color", TEAL);
svg.append("line").attr("x1", arrX).attr("x2", arrX).attr("y1", y(rapidWarming.end) + 8).attr("y2", y(rapidWarming.start) - 8)
  .attr("stroke", "url(#rapidGrad)").attr("stroke-width", 1.6);
const tri = (x, tipY, dir, col) => svg.append("polygon")
  .attr("points", `${x},${tipY} ${x - 5},${tipY + dir * 13} ${x + 5},${tipY + dir * 13}`).attr("fill", col);
tri(arrX, y(rapidWarming.end) + 1, 1, "#e8213a");
tri(arrX, y(rapidWarming.start) - 2, -1, TEAL);

const gr2 = defs.append("linearGradient").attr("id", "longGrad").attr("gradientUnits", "userSpaceOnUse")
  .attr("x1", 0).attr("x2", 0).attr("y1", y(longTermWarming.top)).attr("y2", y(longTermWarming.solidTo));
gr2.append("stop").attr("offset", 0).attr("stop-color", TEAL);
gr2.append("stop").attr("offset", 1).attr("stop-color", "#3fb1e0");
tri(arrX, y(longTermWarming.top), 1, TEAL);
svg.append("line").attr("x1", arrX).attr("x2", arrX).attr("y1", y(longTermWarming.top) + 8).attr("y2", y(longTermWarming.solidTo))
  .attr("stroke", "url(#longGrad)").attr("stroke-width", 1.6);
svg.append("line").attr("x1", arrX).attr("x2", arrX).attr("y1", y(longTermWarming.solidTo) + 5).attr("y2", y(longTermWarming.dottedTo))
  .attr("stroke", "#45b6e6").attr("stroke-width", 1.6).attr("stroke-dasharray", "3,3");

vtext(svg, 491, y((rapidWarming.start + rapidWarming.end) / 2) + 2, "~2°C/100 kyr").attr("font-size", 15).attr("fill", "#e8213a");
vtext(svg, 491, 660, "long-term warmig of ~0.2°C/100 kyr").attr("font-size", 15).attr("fill", "#35b3a4");

// ---------- C: pCO2 ----------
const xC = d3.scaleLinear().domain([0, 2000]).range([525, 696]);
const tC = svg.append("text").attr("x", 610).attr("y", 65).attr("text-anchor", "middle").attr("font-size", 16).attr("fill", "#333");
tC.append("tspan").text("pCO");
tC.append("tspan").attr("dy", 4).attr("font-size", 10).text("2");
tC.append("tspan").attr("dy", -4).text(" (p.p.m.v.)");

const gCt = svg.append("g").attr("transform", "translate(0,106)")
  .call(d3.axisTop(xC).tickValues(pco2Ticks).tickFormat(d => String(d)).tickSize(9).tickPadding(6).tickSizeOuter(0));
styleAxis(gCt, "#333", 13.5);
pco2Ticks.slice(1, 4).forEach(t => svg.append("line").attr("x1", xC(t)).attr("x2", xC(t)).attr("y1", 109).attr("y2", 947)
  .attr("stroke", t === 1000 ? "#b5b5b5" : "#8a8a8a").attr("stroke-width", 1).attr("stroke-dasharray", "3,3"));

const polyPts = arr => arr.map(d => `${xC(d[1])},${y(d[0])}`).join(" ");
[pco2EnvelopeUpper, pco2EnvelopeLower, pco2PliensbachBand].forEach(env =>
  svg.append("polygon").attr("points", polyPts(env)).attr("fill", "#d6d6d6"));

svg.append("g").selectAll("rect").data(pco2Points).join("rect")
  .attr("x", d => xC(d[1]) - 5).attr("y", d => y(d[0]) - 5).attr("width", 10).attr("height", 10)
  .attr("fill", "#7ea600").attr("stroke", "#2a3300").attr("stroke-width", 1.1);

// Pliensbachian estimate with error bars
const pp = pco2Pliensbach;
svg.append("line").attr("x1", xC(pp.value)).attr("x2", xC(pp.value)).attr("y1", y(pp.top)).attr("y2", y(pp.bottom))
  .attr("stroke", "#666").attr("stroke-width", 1.6);
svg.append("line").attr("x1", xC(pp.value) - 7).attr("x2", xC(pp.value) + 7).attr("y1", y(pp.top)).attr("y2", y(pp.top))
  .attr("stroke", "#444").attr("stroke-width", 1.3);
svg.append("line").attr("x1", xC(pp.lo)).attr("x2", xC(pp.hi)).attr("y1", y(pp.age)).attr("y2", y(pp.age))
  .attr("stroke", "#444").attr("stroke-width", 1);
[pp.lo, pp.hi].forEach(v => svg.append("line").attr("x1", xC(v)).attr("x2", xC(v)).attr("y1", y(pp.age) - 6).attr("y2", y(pp.age) + 6)
  .attr("stroke", "#444").attr("stroke-width", 1));
svg.append("rect").attr("x", xC(pp.value) - 5).attr("y", y(pp.age) - 5).attr("width", 10).attr("height", 10)
  .attr("fill", "#e0001b").attr("stroke", "#5a0000").attr("stroke-width", 1);

unknownMarks.forEach(m => svg.append("text").attr("x", xC(m[1])).attr("y", y(m[0])).attr("text-anchor", "middle")
  .attr("dominant-baseline", "central").attr("font-size", 16).attr("font-weight", "bold").attr("fill", "#111").text("?"));

// climate-mode bar
const cg = defs.append("linearGradient").attr("id", "climateGrad").attr("x1", 0).attr("x2", 0).attr("y1", 0).attr("y2", 1);
climateStops.forEach(s => cg.append("stop").attr("offset", s[0]).attr("stop-color", s[1]));
svg.append("rect").attr("x", 705).attr("y", y(climateBar.from)).attr("width", 33)
  .attr("height", y(climateBar.to) - y(climateBar.from)).attr("fill", "url(#climateGrad)");
vtext(svg, 722, 395, "Super Greenhouse").attr("font-size", 18).attr("fill", "#e62a2a");
vtext(svg, 722, 712, "Icehouse").attr("font-size", 18).attr("fill", "#2a3b8f");

// ---------- D: δ13C ----------
const xOrg = d3.scaleLinear().domain([-34, -24]).range([772, 940]);
const xCarb = d3.scaleLinear().domain([-1, 4]).range([916, 1084]);

const tD = svg.append("text").attr("x", 850).attr("y", 65).attr("text-anchor", "middle").attr("font-size", 16).attr("fill", "#333");
tD.append("tspan").text("δ");
tD.append("tspan").attr("dy", -6).attr("font-size", 10).text("13");
tD.append("tspan").attr("dy", 6).text("C");
tD.append("tspan").attr("dy", 4).attr("font-size", 10).text("org");
tD.append("tspan").attr("dy", -4).text(" (‰ VPDB)");

const gDt = svg.append("g").attr("transform", "translate(0,106)")
  .call(d3.axisTop(xOrg).tickValues(orgTicks).tickFormat(d => String(d)).tickSize(9).tickPadding(6).tickSizeOuter(0));
styleAxis(gDt, "#333", 13.5);

const gDb = svg.append("g").attr("transform", "translate(0,758)")
  .call(d3.axisBottom(xCarb).tickValues(carbTicks).tickFormat(d => String(d)).tickSize(8).tickPadding(8).tickSizeOuter(0));
styleAxis(gDb, "#333", 13.5);
const tDb = svg.append("text").attr("x", 1000).attr("y", 808).attr("text-anchor", "middle").attr("font-size", 16).attr("fill", "#333");
tDb.append("tspan").text("δ");
tDb.append("tspan").attr("dy", -6).attr("font-size", 10).text("13");
tDb.append("tspan").attr("dy", 6).text("C");
tDb.append("tspan").attr("dy", 4).attr("font-size", 10).text("carb");
tDb.append("tspan").attr("dy", -4).text(" (‰ VPDB)");

// shift arrows
function shiftArrow(x0, x1, yy, col) {
  svg.append("line").attr("x1", x0).attr("x2", x1 + 8).attr("y1", yy).attr("y2", yy).attr("stroke", col).attr("stroke-width", 1.6);
  svg.append("line").attr("x1", x0).attr("x2", x0).attr("y1", yy - 7).attr("y2", yy + 7).attr("stroke", col).attr("stroke-width", 1.2);
  svg.append("polygon").attr("points", `${x1},${yy} ${x1 + 13},${yy - 5} ${x1 + 9},${yy} ${x1 + 13},${yy + 5}`).attr("fill", col);
}
shiftArrow(xOrg(orgShift.from), xOrg(orgShift.to), 132, "#a8744a");
shiftArrow(xCarb(carbShift.from), xCarb(carbShift.to), 131, "#27378e");
svg.append("text").attr("x", 845).attr("y", 152).attr("text-anchor", "middle").attr("font-size", 14).attr("fill", "#a8744a")
  .text("-3 to -4‰ in OM*");
svg.append("text").attr("x", 986).attr("y", 151).attr("text-anchor", "middle").attr("font-size", 14).attr("fill", "#27378e")
  .text("-3‰ in carbonate");

// CIE guide lines
const guide = (age, x0, x1) => svg.append("line").attr("x1", x0).attr("x2", x1).attr("y1", y(age)).attr("y2", y(age))
  .attr("stroke", "#c4c4c4").attr("stroke-width", 1).attr("stroke-dasharray", "5,3");
guide(cieEntire.from, 905, 1058);
guide(cieMain.from, 832, 1015);
guide(cieMain.to, 870, 1015);
guide(cieEntire.to, 905, 1058);

// isotope curves
svg.append("path").attr("d", d3.line().x(d => xOrg(d[1])).y(d => y(d[0]))(d13COrg))
  .attr("fill", "none").attr("stroke", RED).attr("stroke-width", 1.1).attr("stroke-linejoin", "round");
svg.append("path").attr("d", d3.line().x(d => xCarb(d[1])).y(d => y(d[0]))(d13CCarb))
  .attr("fill", "none").attr("stroke", "#1b2d90").attr("stroke-width", 1.1).attr("stroke-linejoin", "round");

// CIE duration arrows
function durArrow(x, a0, a1) {
  const y0 = y(a0), y1 = y(a1);
  svg.append("line").attr("x1", x).attr("x2", x).attr("y1", y0 + 8).attr("y2", y1 - 8).attr("stroke", "#8c8c8c").attr("stroke-width", 1.6);
  svg.append("polygon").attr("points", `${x},${y0} ${x - 5},${y0 + 13} ${x + 5},${y0 + 13}`).attr("fill", "#8c8c8c");
  svg.append("polygon").attr("points", `${x},${y1} ${x - 5},${y1 - 13} ${x + 5},${y1 - 13}`).attr("fill", "#8c8c8c");
}
durArrow(1008, cieMain.from, cieMain.to);
durArrow(1052, cieEntire.from, cieEntire.to);
vtext(svg, 997, 430, "main Toa-CIE").attr("font-size", 14).attr("fill", "#a8a8a8");
vtext(svg, 1018, 429, "~600 kyr").attr("font-size", 14).attr("fill", "#a8a8a8");
vtext(svg, 1042, 451, "entire Toa-CIE").attr("font-size", 14).attr("fill", "#a8a8a8");
vtext(svg, 1063, 452, "~900 kyr").attr("font-size", 14).attr("fill", "#a8a8a8");

// legend
const legend = [
  { label: "Cleveland Basin (Kemp et al., 2005, 2011)", color: RED, yy: 867 },
  { label: "Lusitanian Basin (Hesselbo et al., 2007)", color: "#1b2d90", yy: 888 }
];
legend.forEach(l => {
  svg.append("line").attr("x1", 767).attr("x2", 808).attr("y1", l.yy).attr("y2", l.yy).attr("stroke", l.color).attr("stroke-width", 1.8);
  svg.append("text").attr("x", 819).attr("y", l.yy).attr("dominant-baseline", "central").attr("font-size", 16.5)
    .attr("fill", "#555").text(l.label);
});

// ---------- E: K-F-LIP ----------
svg.append("text").attr("x", 1140).attr("y", 64).attr("text-anchor", "middle").attr("font-size", 16).attr("fill", "#333").text("K-F-LIP");
const lipW = d3.scaleLinear().domain([0, 1]).range([0, 19]);
function lip(cx, profile, name, labelAge) {
  svg.append("line").attr("x1", cx).attr("x2", cx).attr("y1", y(lipSpan.from)).attr("y2", y(lipSpan.to))
    .attr("stroke", RED).attr("stroke-width", 1.3).attr("stroke-dasharray", "11,7");
  const right = profile.map(d => [cx + lipW(d[1]), y(d[0])]);
  const left = profile.slice().reverse().map(d => [cx - lipW(d[1]), y(d[0])]);
  svg.append("polygon").attr("points", right.concat(left).map(p => p.join(",")).join(" ")).attr("fill", RED);
  vtext(svg, cx, y(labelAge), name).attr("font-size", 17).attr("font-weight", "bold").attr("fill", "#fff");
}
lip(1117, karooActivity, "Karoo LIP", 182.971);
lip(1180, ferrarActivity, "Ferrar LIP", 183.005);
</script>
</body>
</html>
